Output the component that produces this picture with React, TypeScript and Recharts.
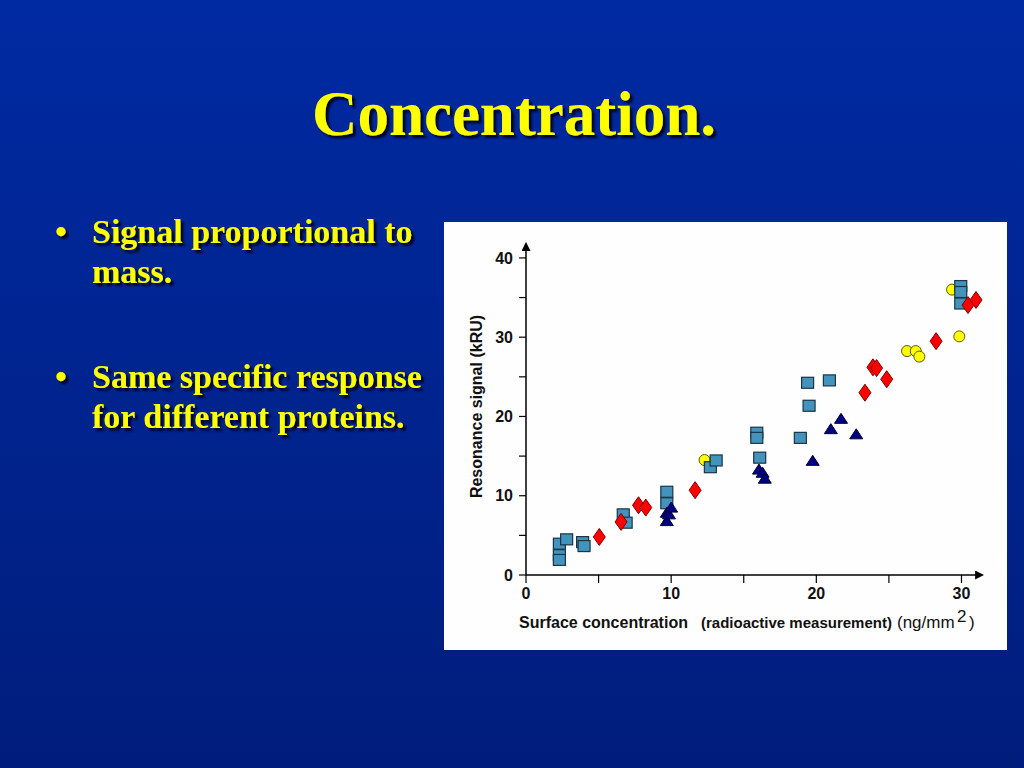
import { Scatter, ScatterChart, XAxis, YAxis } from 'recharts';

// Surface concentration (ng/mm²) vs resonance signal (kRU), one list per protein / marker.
const squarePoints = [
  { x: 2.3, y: 3.95 }, { x: 2.8, y: 4.5 }, { x: 2.3, y: 2.5 }, { x: 2.3, y: 1.9 },
  { x: 3.9, y: 4.15 }, { x: 4.0, y: 3.65 }, { x: 6.7, y: 7.65 }, { x: 6.9, y: 6.6 },
  { x: 9.7, y: 10.5 }, { x: 9.7, y: 9.05 }, { x: 12.7, y: 13.6 }, { x: 13.1, y: 14.45 },
  { x: 15.9, y: 17.95 }, { x: 15.9, y: 17.3 }, { x: 16.1, y: 14.8 }, { x: 18.9, y: 17.3 },
  { x: 19.4, y: 24.25 }, { x: 19.5, y: 21.35 }, { x: 20.9, y: 24.55 },
  { x: 29.95, y: 36.45 }, { x: 29.95, y: 35.7 }, { x: 29.95, y: 34.25 },
];

const trianglePoints = [
  { x: 9.7, y: 6.8 }, { x: 9.7, y: 7.85 }, { x: 9.85, y: 7.65 }, { x: 10.0, y: 8.5 },
  { x: 16.05, y: 13.3 }, { x: 16.3, y: 12.9 }, { x: 16.45, y: 12.15 },
  { x: 19.75, y: 14.4 }, { x: 21.0, y: 18.4 }, { x: 21.7, y: 19.7 }, { x: 22.75, y: 17.75 },
];

const diamondPoints = [
  { x: 5.05, y: 4.8 }, { x: 6.55, y: 6.7 }, { x: 7.75, y: 8.8 }, { x: 8.25, y: 8.5 },
  { x: 11.65, y: 10.7 }, { x: 23.35, y: 23.0 }, { x: 23.9, y: 26.2 }, { x: 24.15, y: 26.1 },
  { x: 24.85, y: 24.7 }, { x: 28.25, y: 29.5 }, { x: 30.45, y: 34.05 }, { x: 31.0, y: 34.7 },
];

const circlePoints = [
  { x: 9.7, y: 9.75 }, { x: 12.3, y: 14.5 }, { x: 26.25, y: 28.25 }, { x: 26.85, y: 28.25 },
  { x: 27.1, y: 27.55 }, { x: 29.35, y: 36.0 }, { x: 29.85, y: 30.1 },
];

const xTicks = [0, 5, 10, 15, 20, 25, 30];
const yTicks = [0, 5, 10, 15, 20, 25, 30, 35, 40];

const bullets = [
  ['Signal proportional to', 'mass.'],
  ['Same specific response', 'for different proteins.'],
];

const sans = '"Liberation Sans", Arial, sans-serif';
const serif = '"Liberation Serif", "Times New Roman", serif';

const SquareDot = ({ cx, cy }: any) => (
  <rect x={cx - 6} y={cy - 5.5} width={12} height={11} fill="#4393bd" stroke="#1a3546" strokeWidth={1.2} />
);
const DiamondDot = ({ cx, cy }: any) => (
  <polygon
    points={`${cx},${cy - 8.5} ${cx + 6},${cy} ${cx},${cy + 8.5} ${cx - 6},${cy}`}
    fill="#ff0000"
    stroke="#7a0000"
    strokeWidth={1}
  />
);
const TriangleDot = ({ cx, cy }: any) => (
  <polygon
    points={`${cx},${cy - 5.5} ${cx + 6.5},${cy + 4.5} ${cx - 6.5},${cy + 4.5}`}
    fill="#000080"
    stroke="#000030"
    strokeWidth={1}
  />
);
const CircleDot = ({ cx, cy }: any) => (
  <circle cx={cx} cy={cy} r={5.5} fill="#ffff00" stroke="#5a5a00" strokeWidth={1} />
);

const tickFmt = (v: number) => (v % 10 === 0 ? String(v) : '');

const XTitle = ({ viewBox }: any) => {
  const x0 = viewBox.x;
  const y0 = viewBox.y + 53;
  return (
    <g fill="#111">
      <text x={x0 - 7} y={y0} fontFamily={sans} fontWeight="bold" fontSize={16}>Surface concentration</text>
      <text x={x0 + 175} y={y0} fontFamily={sans} fontWeight="bold" fontSize={15}>(radioactive measurement)</text>
      <text x={x0 + 371} y={y0} fontFamily={sans} fontSize={17}>(ng/mm</text>
      <text x={x0 + 431} y={y0 - 6} fontFamily={sans} fontSize={17}>2</text>
      <text x={x0 + 443} y={y0} fontFamily={sans} fontSize={17}>)</text>
    </g>
  );
};

const YTitle = ({ viewBox }: any) => {
  const cx = viewBox.x + 32;
  const cy = viewBox.y + viewBox.height / 2 - 6;
  return (
    <text
      x={cx}
      y={cy}
      transform={`rotate(-90 ${cx} ${cy})`}
      textAnchor="middle"
      dominantBaseline="central"
      fontFamily={sans}
      fontWeight="bold"
      fontSize={16}
      fill="#111"
    >
      Resonance signal (kRU)
    </text>
  );
};

const SlideText = ({ x, y, size, anchor, children }: any) => (
  <text
    x={x}
    y={y}
    fontFamily={serif}
    fontWeight="bold"
    fontSize={size}
    textAnchor={anchor}
    fill="#ffff00"
    filter="url(#textShadow)"
  >
    {children}
  </text>
);

export default function App() {
  const axisLine = { stroke: '#000', strokeWidth: 1.5 };
  const tick = { fill: '#111', fontSize: 16, fontWeight: 'bold', fontFamily: sans };
  return (
    <div style={{ position: 'absolute', left: 0, top: 0, width: 1024, height: 768, overflow: 'hidden' }}>
      <svg width={1024} height={768} style={{ position: 'absolute', left: 0, top: 0 }}>
        <defs>
          <linearGradient id="slideBg" x1="0" y1="0" x2="0" y2="1">
            <stop offset="0%" stopColor="#002aa2" />
            <stop offset="100%" stopColor="#001d7c" />
          </linearGradient>
          <filter id="textShadow" x="-5%" y="-20%" width="115%" height="150%">
            <feDropShadow dx="3" dy="3" stdDeviation="1" floodColor="#00001e" floodOpacity="0.9" />
          </filter>
        </defs>
        <rect width={1024} height={768} fill="url(#slideBg)" />
        <SlideText x={514} y={135} size={63} anchor="middle">Concentration.</SlideText>
        {bullets.map((lines, i) => (
          <g key={i}>
            <SlideText x={61} y={243 + i * 145} size={34} anchor="middle">•</SlideText>
            {lines.map((line, j) => (
              <SlideText key={j} x={92} y={243 + i * 145 + j * 40} size={34} anchor="start">{line}</SlideText>
            ))}
          </g>
        ))}
        <rect x={444} y={222} width={563} height={428} fill="#fefefe" />
      </svg>
      <div style={{ position: 'absolute', left: 444, top: 222 }}>
        <ScatterChart width={563} height={428} margin={{ top: 28, right: 31, bottom: 0, left: 0 }}>
          <defs>
            <marker id="axisArrow" viewBox="0 0 10 10" refX="1" refY="5" markerWidth="9" markerHeight="9"
              markerUnits="userSpaceOnUse" orient="auto-start-reverse">
              <path d="M0,0 L10,5 L0,10 z" fill="#000" />
            </marker>
          </defs>
          <XAxis
            type="number"
            dataKey="x"
            domain={[0, 31]}
            ticks={xTicks}
            tickFormatter={tickFmt}
            interval={0}
            height={75}
            tickSize={8}
            tickMargin={5}
            axisLine={{ ...axisLine, markerEnd: 'url(#axisArrow)' }}
            tickLine={{ stroke: '#000', strokeWidth: 1.2 }}
            tick={tick}
            label={{ content: (p: any) => <XTitle {...p} /> }}
          />
          <YAxis
            type="number"
            dataKey="y"
            domain={[0, 41]}
            ticks={yTicks}
            tickFormatter={tickFmt}
            interval={0}
            width={82}
            tickSize={7}
            tickMargin={6}
            axisLine={{ ...axisLine, markerStart: 'url(#axisArrow)' }}
            tickLine={{ stroke: '#000', strokeWidth: 1.2 }}
            tick={tick}
            label={{ content: (p: any) => <YTitle {...p} /> }}
          />
          <Scatter data={circlePoints} shape={<CircleDot />} isAnimationActive={false} />
          <Scatter data={squarePoints} shape={<SquareDot />} isAnimationActive={false} />
          <Scatter data={trianglePoints} shape={<TriangleDot />} isAnimationActive={false} />
          <Scatter data={diamondPoints} shape={<DiamondDot />} isAnimationActive={false} />
        </ScatterChart>
      </div>
    </div>
  );
}
